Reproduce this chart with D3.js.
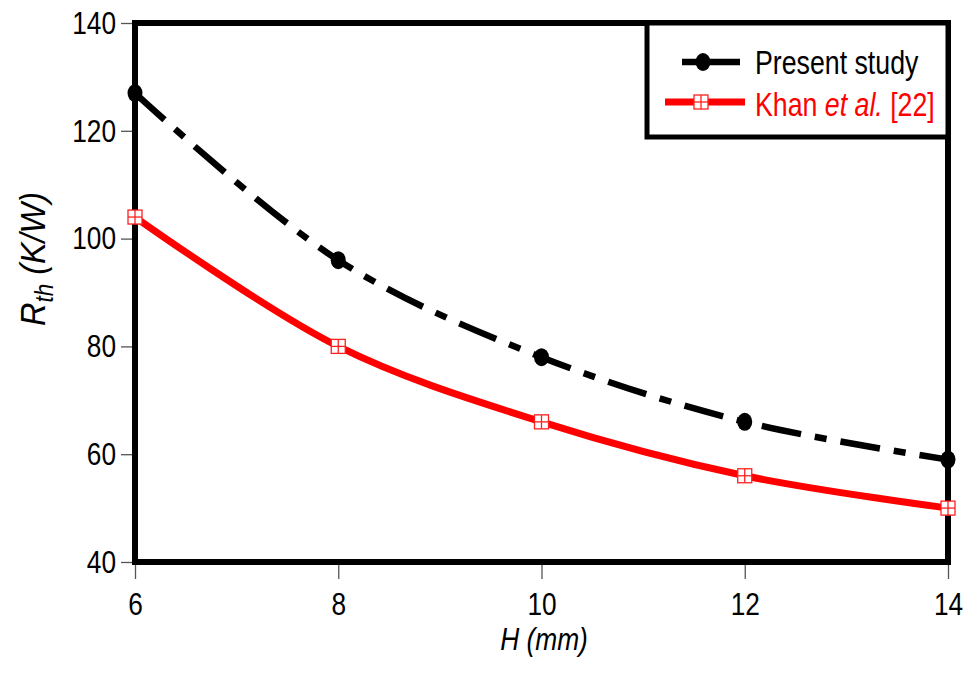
<!DOCTYPE html>
<html>
<head>
<meta charset="utf-8">
<script src="https://cdn.jsdelivr.net/npm/d3@7"></script>
<style>
  body { margin: 0; background: #fff; }
  text { font-family: "Liberation Sans", Arial, sans-serif; }
</style>
</head>
<body>
<div id="container"></div>
<script>
var width = 970,
    height = 676;

// data
var heights = [6, 8, 10, 12, 14];
var present_study = [127, 96, 78, 66, 59];
var khan = [104, 80, 66, 56, 50];
var x_ticks = [6, 8, 10, 12, 14];
var y_ticks = [40, 60, 80, 100, 120, 140];

var margin = {left: 135, right: 22, top: 23, bottom: 114};
var narrow = 0.82;   // the original type is a condensed Arial

var svg = d3.select("#container")
            .append("svg")
            .attr("width", width)
            .attr("height", height);

var x = d3.scaleLinear().domain([6, 14]).range([margin.left, width - margin.right]);
var y = d3.scaleLinear().domain([40, 140]).range([height - margin.bottom, margin.top]);

// squeeze a text horizontally round its anchor point
function squeeze(sel, k, rot){
  sel.each(function(){
    var t = d3.select(this);
    var tx = +t.attr("x") || 0, ty = +t.attr("y") || 0;
    t.attr("x", 0).attr("y", 0)
     .attr("transform", "translate(" + tx + "," + ty + ")" + (rot ? " rotate(" + rot + ")" : "") + " scale(" + k + ",1)");
  });
}

// ticks (thin grey, outside)
var xAxis = d3.axisBottom(x).tickValues(x_ticks).tickSize(17).tickPadding(14);
var yAxis = d3.axisLeft(y).tickValues(y_ticks).tickSize(14).tickPadding(5);

var gx = svg.append("g")
   .attr("transform", "translate(0," + y.range()[0] + ")")
   .call(xAxis);
var gy = svg.append("g")
   .attr("transform", "translate(" + x.range()[0] + ",0)")
   .call(yAxis);

[gx, gy].forEach(function(g){
  g.select(".domain").remove();
  g.selectAll(".tick line").attr("stroke", "#555").attr("stroke-width", 1.3);
  g.selectAll(".tick text")
   .attr("fill", "#000")
   .style("font-size", "32px");
});
gx.selectAll(".tick text").attr("dy", "0.7em");
squeeze(gx.selectAll(".tick text"), narrow);
squeeze(gy.selectAll(".tick text"), narrow);

// plot frame
svg.append("rect")
   .attr("x", x.range()[0])
   .attr("y", y.range()[1])
   .attr("width", x.range()[1] - x.range()[0])
   .attr("height", y.range()[0] - y.range()[1])
   .attr("fill", "none")
   .attr("stroke", "#000")
   .attr("stroke-width", 6);

var line = d3.line()
   .x(function(d){ return x(d[0]); })
   .y(function(d){ return y(d[1]); })
   .curve(d3.curveCatmullRom.alpha(0.5));

var ps_data = heights.map(function(h, i){ return [h, present_study[i]]; });
var kh_data = heights.map(function(h, i){ return [h, khan[i]]; });

svg.append("path")
   .datum(kh_data)
   .attr("d", line)
   .attr("fill", "none")
   .attr("stroke", "#ff0000")
   .attr("stroke-width", 7);

svg.append("path")
   .datum(ps_data)
   .attr("d", line)
   .attr("fill", "none")
   .attr("stroke", "#000")
   .attr("stroke-width", 6.5)
   .attr("stroke-dasharray", "40,14,12,14");

function circleMarker(g, cx, cy){
  g.append("ellipse")
   .attr("cx", cx).attr("cy", cy)
   .attr("rx", 7.5).attr("ry", 9)
   .attr("fill", "#000");
}

function squareMarker(g, cx, cy){
  var s = 14;
  g.append("rect")
   .attr("x", cx - s/2).attr("y", cy - s/2)
   .attr("width", s).attr("height", s)
   .attr("fill", "#fff")
   .attr("stroke", "#ff2020")
   .attr("stroke-width", 1.3);
  g.append("line")
   .attr("x1", cx).attr("x2", cx)
   .attr("y1", cy - s/2).attr("y2", cy + s/2)
   .attr("stroke", "#ff2020").attr("stroke-width", 1.3);
  g.append("line")
   .attr("x1", cx - s/2).attr("x2", cx + s/2)
   .attr("y1", cy).attr("y2", cy)
   .attr("stroke", "#ff2020").attr("stroke-width", 1.3);
}

var marks = svg.append("g");
ps_data.forEach(function(d){ circleMarker(marks, x(d[0]), y(d[1])); });
kh_data.forEach(function(d){ squareMarker(marks, x(d[0]), y(d[1])); });

// legend
var legend = svg.append("g").attr("id", "legend");
legend.append("rect")
   .attr("x", 647).attr("y", 23)
   .attr("width", 301).attr("height", 114)
   .attr("fill", "#fff")
   .attr("stroke", "#000")
   .attr("stroke-width", 5);

legend.append("line")
   .attr("x1", 682).attr("x2", 740)
   .attr("y1", 62).attr("y2", 62)
   .attr("stroke", "#000").attr("stroke-width", 6.5);
circleMarker(legend, 703, 62);

legend.append("line")
   .attr("x1", 665).attr("x2", 745)
   .attr("y1", 102).attr("y2", 102)
   .attr("stroke", "#ff0000").attr("stroke-width", 7);
squareMarker(legend, 701, 102);

var pt = legend.append("text")
   .attr("x", 755).attr("y", 74)
   .style("font-size", "33px")
   .attr("fill", "#000")
   .text("Present study");

var kt = legend.append("text")
   .attr("x", 755).attr("y", 116)
   .style("font-size", "33px")
   .attr("fill", "#ff0000");
kt.append("tspan").text("Khan ");
kt.append("tspan").style("font-style", "italic").text("et al.");
kt.append("tspan").text(" [22]");
squeeze(pt, 0.81);
squeeze(kt, 0.81);

// axis titles
var xt = svg.append("text")
   .attr("x", 544).attr("y", 650)
   .attr("text-anchor", "middle")
   .style("font-size", "31px")
   .style("font-style", "italic")
   .text("H (mm)");
squeeze(xt, 0.85);

var yt = svg.append("text")
   .attr("x", 45).attr("y", 259)
   .attr("text-anchor", "middle")
   .style("font-size", "36px")
   .style("font-style", "italic");
yt.append("tspan").text("R");
yt.append("tspan").attr("dy", 8).style("font-size", "25px").text("th");
yt.append("tspan").attr("dy", -8).text(" (K/W)");
squeeze(yt, 0.9, -90);
</script>
</body>
</html>
